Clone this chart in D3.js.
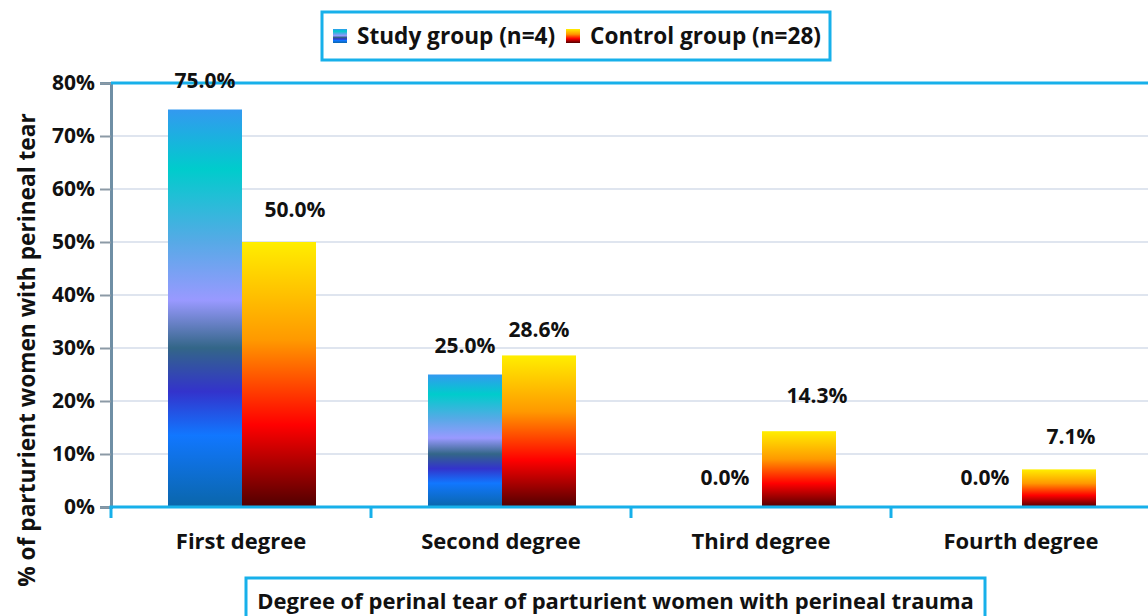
<!DOCTYPE html>
<html>
<head>
<meta charset="utf-8">
<script src="https://cdn.jsdelivr.net/npm/d3@7"></script>
<style>
  body { margin: 0; background: #fff; }
  svg { display: block; font-family: "Open Sans", sans-serif; font-weight: bold; }
</style>
</head>
<body>
<div id="chart"></div>
<script>
const categories = ["First degree", "Second degree", "Third degree", "Fourth degree"];
const groups = ["Study group (n=4)", "Control group (n=28)"];
const study = [0.75, 0.25, 0.0, 0.0];
const control = [0.5, 0.286, 0.143, 0.071];
const yTicks = [0, 0.1, 0.2, 0.3, 0.4, 0.5, 0.6, 0.7, 0.8];

const width = 1148;
const height = 616;
const margin = { top: 83, left: 111, bottom: 109 };
const blue = "#17b0ea";

const svg = d3.select("#chart")
  .append("svg")
  .attr("width", width)
  .attr("height", height);

const defs = svg.append("defs");

// excel-like preset gradients
const studyStops = [
  [0, "#3399f0"], [0.15, "#00cccc"], [0.33, "#55aae6"], [0.48, "#9999ff"],
  [0.6, "#336688"], [0.71, "#3333cc"], [0.82, "#1177ff"], [1, "#0a66aa"]
];
const controlStops = [
  [0, "#ffee00"], [0.37, "#ff9900"], [0.69, "#ff0000"], [1, "#500000"]
];

function gradient(id, stops) {
  const g = defs.append("linearGradient")
    .attr("id", id)
    .attr("x1", 0).attr("y1", 0)
    .attr("x2", 0).attr("y2", 1);
  g.selectAll("stop")
    .data(stops)
    .enter()
    .append("stop")
    .attr("offset", d => d[0])
    .attr("stop-color", d => d[1]);
}
gradient("g0", studyStops);
gradient("g1", controlStops);

const plotRight = margin.left + 260 * categories.length;
const y0 = height - margin.bottom; // 507

const x0 = d3.scaleBand()
  .domain(categories)
  .range([margin.left, plotRight]);

const x1 = d3.scaleBand()
  .domain([0, 1])
  .range([57, 205]);

const y = d3.scaleLinear()
  .domain([0, 0.8])
  .range([y0, margin.top]);

// gridlines
svg.append("g")
  .selectAll("line")
  .data(yTicks.slice(1, -1))
  .enter()
  .append("line")
  .attr("x1", margin.left)
  .attr("x2", width)
  .attr("y1", d => y(d))
  .attr("y2", d => y(d))
  .attr("stroke", "#dfe5ef")
  .attr("stroke-width", 2);

// y axis
const yAxis = svg.append("g")
  .attr("transform", `translate(${margin.left},0)`)
  .call(d3.axisLeft(y).tickValues(yTicks).tickFormat(d3.format(".0%")).tickSize(11).tickPadding(5));
yAxis.select(".domain").attr("stroke", "#6f8fa5").attr("stroke-width", 3);
yAxis.selectAll(".tick line").attr("stroke", "#8c9aa6").attr("stroke-width", 2);
yAxis.selectAll(".tick text")
  .attr("fill", "#111")
  .style("font-size", "21px")
  .style("font-family", "'Open Sans', sans-serif")
  .style("font-weight", "bold");

// top border
svg.append("line")
  .attr("x1", margin.left)
  .attr("x2", width)
  .attr("y1", y(0.8))
  .attr("y2", y(0.8))
  .attr("stroke", blue)
  .attr("stroke-width", 3);

// bars
const series = [study, control];
const bars = svg.append("g")
  .selectAll("g")
  .data(categories)
  .enter()
  .append("g")
  .attr("transform", d => `translate(${x0(d)},0)`);

bars.selectAll("rect")
  .data((d, i) => series.map((s, k) => ({ k, v: s[i] })))
  .enter()
  .append("rect")
  .attr("x", d => x1(d.k))
  .attr("width", x1.bandwidth())
  .attr("y", d => y(d.v))
  .attr("height", d => y0 - y(d.v))
  .attr("fill", d => `url(#g${d.k})`);

// value labels (small nudges like the original)
const nudgeX = [[0, 0, 0, 0], [16, 0, 18, 12]];
const gap = [[29, 29, 29, 29], [32, 26, 36, 33]];
bars.selectAll("text")
  .data((d, i) => series.map((s, k) => ({ k, i, v: s[i] })))
  .enter()
  .append("text")
  .attr("x", d => x1(d.k) + x1.bandwidth() / 2 + nudgeX[d.k][d.i])
  .attr("y", d => y(d.v) - gap[d.k][d.i])
  .attr("dy", "0.35em")
  .attr("text-anchor", "middle")
  .style("font-size", "21px")
  .attr("fill", "#111")
  .text(d => d3.format(".1%")(d.v));

// x axis line + boundary ticks
svg.append("line")
  .attr("x1", margin.left - 1.5)
  .attr("x2", width)
  .attr("y1", y0)
  .attr("y2", y0)
  .attr("stroke", blue)
  .attr("stroke-width", 3);

svg.append("g")
  .selectAll("line")
  .data(categories)
  .enter()
  .append("line")
  .attr("x1", d => x0(d))
  .attr("x2", d => x0(d))
  .attr("y1", y0)
  .attr("y2", y0 + 11)
  .attr("stroke", blue)
  .attr("stroke-width", 3);

svg.append("g")
  .selectAll("text")
  .data(categories)
  .enter()
  .append("text")
  .attr("x", d => x0(d) + x0.bandwidth() / 2)
  .attr("y", 541)
  .attr("dy", "0.35em")
  .attr("text-anchor", "middle")
  .style("font-size", "22px")
  .attr("fill", "#111")
  .text(d => d);

// y title
svg.append("text")
  .attr("transform", "translate(27,350) rotate(-90)")
  .attr("dy", "0.35em")
  .attr("text-anchor", "middle")
  .style("font-size", "22.7px")
  .attr("fill", "#111")
  .text("% of parturient women with perineal tear");

// x title box
svg.append("rect")
  .attr("x", 246).attr("y", 578)
  .attr("width", 739).attr("height", 50)
  .attr("fill", "#fff")
  .attr("stroke", blue)
  .attr("stroke-width", 3);
svg.append("text")
  .attr("x", 615.5)
  .attr("y", 601)
  .attr("dy", "0.35em")
  .attr("text-anchor", "middle")
  .style("font-size", "22px")
  .attr("fill", "#111")
  .text("Degree of perinal tear of parturient women with perineal trauma");

// legend
const legend = svg.append("g");
legend.append("rect")
  .attr("x", 322).attr("y", 12)
  .attr("width", 508).attr("height", 48)
  .attr("fill", "#fff")
  .attr("stroke", blue)
  .attr("stroke-width", 3);

const legendX = [333, 566];
const items = legend.selectAll("g")
  .data(groups)
  .enter()
  .append("g")
  .attr("transform", (d, i) => `translate(${legendX[i]},29)`);
items.append("rect")
  .attr("width", 14)
  .attr("height", 14)
  .attr("fill", (d, i) => `url(#g${i})`);
items.append("text")
  .attr("x", 24)
  .attr("y", 7)
  .attr("dy", "0.35em")
  .style("font-size", "22.6px")
  .attr("fill", "#111")
  .text(d => d);
</script>
</body>
</html>
